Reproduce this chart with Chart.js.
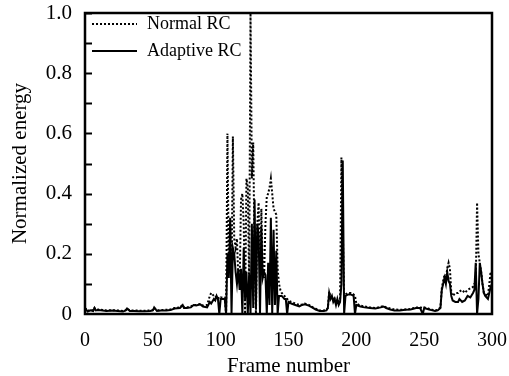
<!DOCTYPE html>
<html>
<head>
<meta charset="utf-8">
<script src="https://cdn.jsdelivr.net/npm/chart.js@4"></script>
<style>
  html, body { margin: 0; padding: 0; background: #fff; }
  #wrap { width: 509px; height: 376px; }
</style>
</head>
<body>
<div id="wrap"><canvas id="myChart" width="509" height="376"></canvas></div>
<script>
// frame numbers (x) and the two energy curves
const frames = [0,2,4,6,7,8,10,13,16,20,24,28,30,31,33,36,40,44,48,50,51,53,56,60,63,66,70,72,73,75,78,80,82,85,87,90,92,93,95,96,97,98,99,100,102,103,
  104,105,106,107,108,109,110,111,112,113,114,115,116,117,118,119,120,121,122,123,124,125,126,127,128,129,130,131,132,133,134,135,136,137,138,139,140,141,142,143,144,145,146,147,148,149,150,
  152,155,158,160,162,165,168,170,173,176,178,179,180,181,182,183,184,185,186,187,188,189,190,191,192,194,196,198,199,200,
  203,206,210,214,218,220,222,225,228,232,236,240,244,247,249,250,253,256,258,260,262,263,264,265,266,267,268,269,270,271,
  273,275,276,278,280,282,284,286,287,288,289,290,291,292,293,294,295,297,299,300];

const normalRC = [.02,.01,.014,.012,.02,.014,.015,.013,.012,.013,.012,.01,.013,.018,.012,.012,.011,.011,.012,.013,.02,.012,.013,.014,.015,.02,.022,.03,.022,.022,.025,.03,.03,.033,.028,.03,.06,.07,.06,.055,.06,.055,.05,.055,.055,.055,
  0,.6,.15,.3,.1,.59,.25,.22,.25,.12,.1,.38,.4,.3,0,.45,.42,.1,1.0,.45,.57,.2,0,.3,.37,.1,.35,.15,.12,.3,.39,.4,.42,.45,.4,.35,.34,.33,.15,.1,.08,.07,.065,.06,.055,.05,.045,
  .04,.035,.03,.032,.035,.03,.022,.018,.012,.012,.014,.02,.075,.055,.06,.045,.05,.035,.05,.035,.045,.52,.3,.05,.065,.07,.07,.065,.06,.035,
  .028,.025,.022,.02,.024,.026,.022,.018,.015,.014,.015,.017,.022,.022,.02,.022,.018,.014,.012,.014,.022,.085,.11,.13,.12,.15,.17,.15,.07,.06,
  .07,.07,.075,.08,.07,.08,.085,.09,.1,.1,.37,.2,.17,.14,.1,.07,.065,.06,.14,.1];

const adaptiveRC = [.02,.008,.012,.01,.02,.012,.013,.012,.01,.012,.01,.008,.012,.018,.01,.01,.009,.009,.01,.012,.022,.01,.012,.012,.013,.018,.02,.03,.02,.02,.022,.03,.028,.032,.025,.022,.04,.035,.05,.045,.06,.05,0,.05,.05,.05,
  0,.2,.12,.32,0,.22,.2,.14,.1,.15,.08,.15,0,.22,.05,.14,0,.13,0,.3,.02,.38,.02,.3,.26,0,.29,.12,.14,.13,0,.17,.03,.32,0,.28,.03,.21,0,.06,.06,.06,.055,.05,.05,0,.04,
  .035,.03,.025,.03,.032,.028,.02,.015,.01,.01,.012,.02,.07,.05,.06,.04,.05,.03,.05,.03,.04,.1,.51,0,.06,.065,.065,.06,0,.03,
  .025,.022,.02,.018,.022,.025,.02,.015,.012,.012,.014,.015,.02,.02,0,.02,.016,.012,.01,.012,.02,.08,.1,.12,.1,.14,.11,.1,.06,.045,
  .04,.04,.05,.04,.045,.06,.055,.07,.08,.17,0,.05,.17,.14,.1,.07,.06,.05,.09,.1];

const xTicks = [0, 50, 100, 150, 200, 250, 300];
const yTicks = [0, 0.2, 0.4, 0.6, 0.8, 1.0];

const serif = "'Liberation Serif', 'Times New Roman', serif";

// frame around the plot, inward ticks on the left axis, legend in the corner
const decor = {
  id: 'decor',
  afterDraw(chart) {
    let ctx = chart.ctx;
    let a = chart.chartArea;
    let y = chart.scales.y;
    ctx.save();
    ctx.strokeStyle = '#000';
    ctx.lineWidth = 2.5;
    ctx.strokeRect(a.left, a.top, a.right - a.left, a.bottom - a.top);

    ctx.lineWidth = 2;
    for (let v = 0.1; v < 1.0; v += 0.1) {
      let py = Math.round(y.getPixelForValue(v)) + 0.5;
      ctx.beginPath();
      ctx.moveTo(a.left, py);
      ctx.lineTo(a.left + 7, py);
      ctx.stroke();
    }

    let ds = chart.data.datasets;
    ctx.font = '18px ' + serif;
    ctx.fillStyle = '#000';
    ctx.textBaseline = 'middle';
    let rows = [a.top + 11, a.top + 38];
    ds.forEach((d, i) => {
      ctx.lineWidth = d.borderWidth;
      ctx.setLineDash(d.borderDash || []);
      ctx.beginPath();
      ctx.moveTo(a.left + 7, rows[i]);
      ctx.lineTo(a.left + 52, rows[i]);
      ctx.stroke();
      ctx.setLineDash([]);
      ctx.fillText(d.label, a.left + 62, rows[i]);
    });
    ctx.restore();
  }
};

var ctx = document.getElementById('myChart');
new Chart(ctx, {
  type: 'line',
  data: {
    datasets: [{
      label: 'Normal RC',
      data: frames.map((f, i) => ({ x: f, y: normalRC[i] })),
      borderColor: '#000',
      borderWidth: 2,
      borderDash: [2, 2],
      pointRadius: 0,
      tension: 0
    }, {
      label: 'Adaptive RC',
      data: frames.map((f, i) => ({ x: f, y: adaptiveRC[i] })),
      borderColor: '#000',
      borderWidth: 2,
      pointRadius: 0,
      tension: 0
    }]
  },
  options: {
    responsive: false,
    animation: false,
    layout: { padding: 0 },
    plugins: { legend: { display: false }, tooltip: { enabled: false } },
    scales: {
      x: {
        type: 'linear',
        min: 0,
        max: 300,
        afterBuildTicks: (s) => { s.ticks = xTicks.map(v => ({ value: v })); },
        grid: { display: false },
        border: { display: false },
        ticks: { color: '#000', font: { family: serif, size: 20 }, padding: 7, maxRotation: 0 },
        title: { display: true, text: 'Frame number', color: '#000', font: { family: serif, size: 21 }, padding: { top: 4, bottom: -3 } },
        afterFit: (s) => { s.height = 62; s.paddingRight = 17; }
      },
      y: {
        min: 0,
        max: 1.0,
        afterBuildTicks: (s) => { s.ticks = yTicks.map(v => ({ value: v })); },
        grid: { display: false },
        border: { display: false },
        ticks: {
          color: '#000',
          font: { family: serif, size: 21 },
          padding: 5,
          callback: (v) => v === 0 ? '0' : v.toFixed(1)
        },
        title: { display: true, text: 'Normalized energy', color: '#000', font: { family: serif, size: 21 }, padding: { top: 8, bottom: 0 } },
        afterFit: (s) => { s.width = 85; s.paddingTop = 13; }
      }
    }
  },
  plugins: [decor]
});
</script>
</body>
</html>
